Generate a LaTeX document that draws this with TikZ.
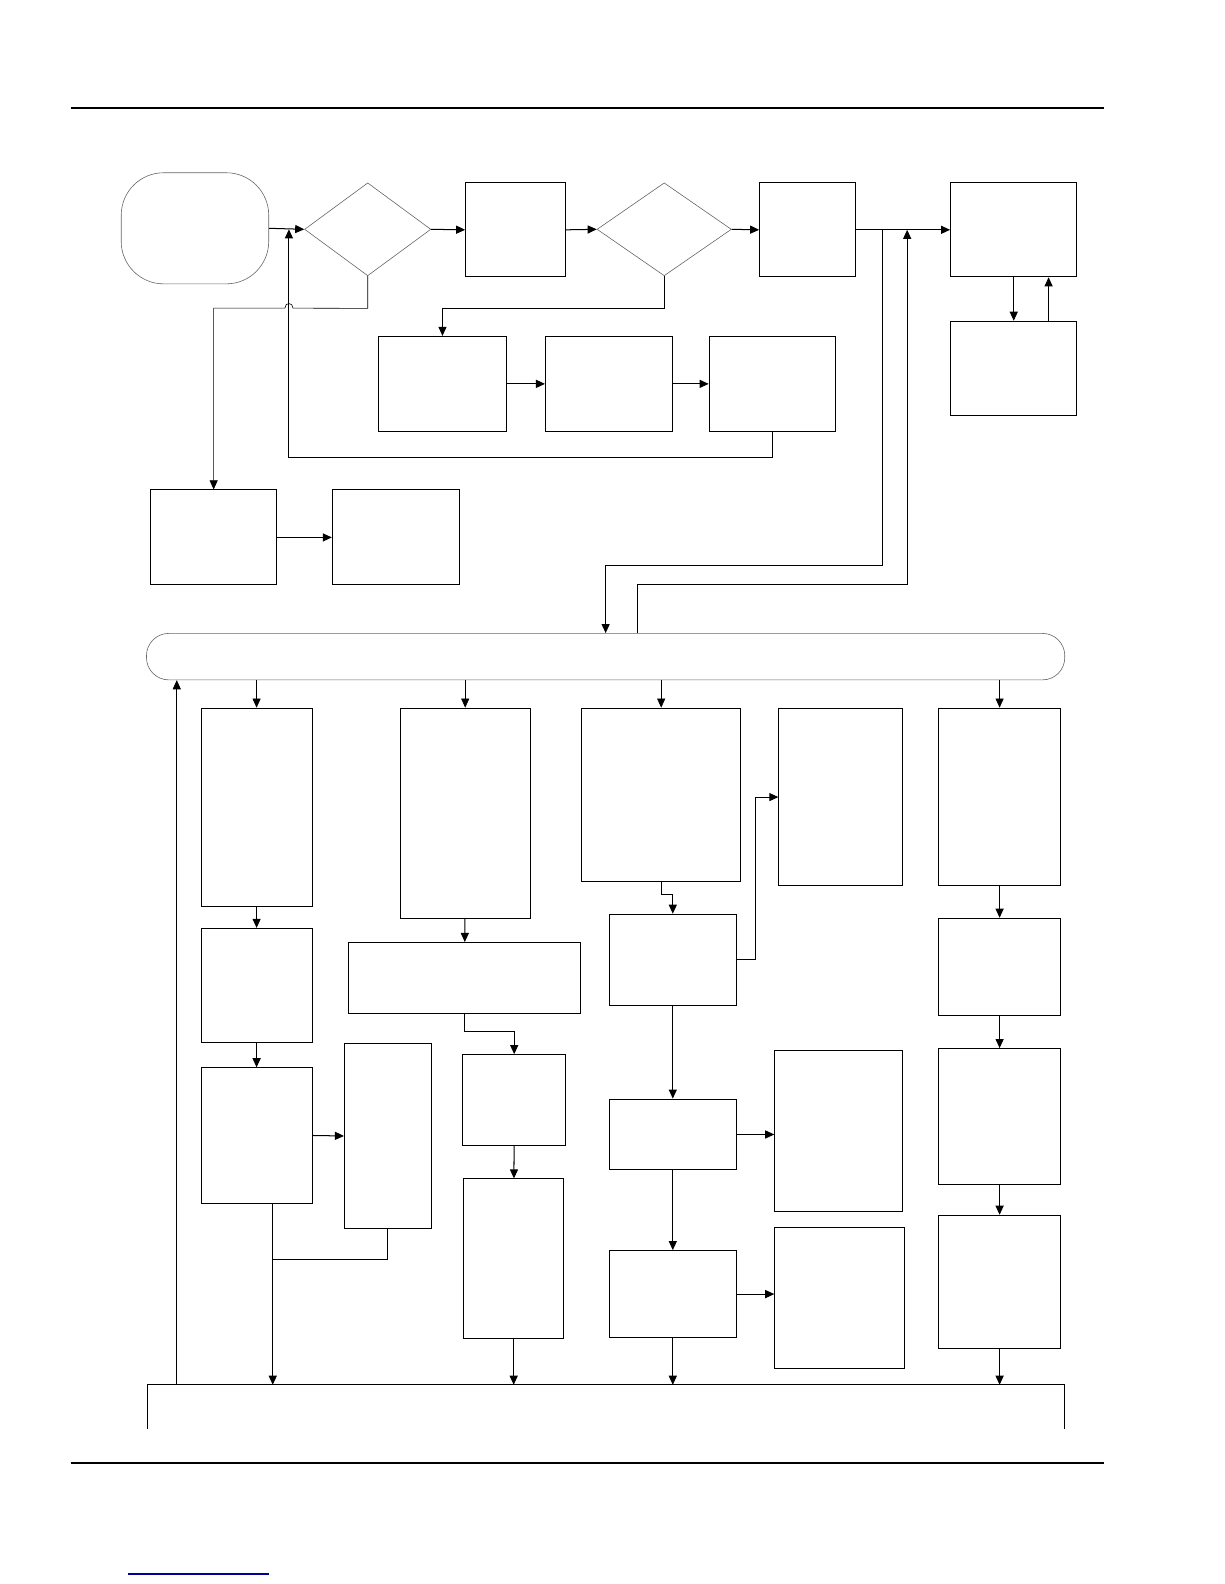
\documentclass[tikz,border=0pt]{standalone}
\usepackage{tikz}
\usetikzlibrary{arrows.meta, shapes.geometric}

\tikzset{
    proc/.style={draw, rectangle, line width=1pt, inner sep=0pt},
    decision/.style={draw=black!60, diamond, line width=0.6pt, inner sep=0pt, aspect=1},
    term/.style={draw=black!60, rectangle, line width=0.6pt, inner sep=0pt},
    flow/.style={-{Triangle[length=9pt,width=8pt]}, line width=1pt},
    link/.style={line width=1pt},
    faint/.style={line width=0.6pt}
}

\begin{document}
\begin{tikzpicture}[x=1pt, y=-1pt]
    \useasboundingbox (0,0) rectangle (1212,1568);

    % Page rules
    \draw[line width=2pt] (70,107) -- (1093,107);
    \draw[line width=2pt] (70,1448) -- (1093,1448);
    \draw[line width=1.5pt, blue!60!black] (127,1558) -- (266,1558);

    % Draw nodes (top part)
    \node[term, rounded corners=42, minimum width=146, minimum height=110] (1) at (193,226) {};
    \node[decision, minimum width=125, minimum height=92] (2) at (364,227) {};
    \node[proc, minimum width=99, minimum height=93] (3) at (510.5,227.5) {};
    \node[decision, minimum width=133, minimum height=92] (4) at (657.5,227) {};
    \node[proc, minimum width=95, minimum height=93] (5) at (799.5,227.5) {};
    \node[proc, minimum width=125, minimum height=93] (6) at (1003.5,227.5) {};
    \node[proc, minimum width=125, minimum height=93] (7) at (1003.5,364.5) {};
    \node[proc, minimum width=126, minimum height=94] (8) at (438,380) {};
    \node[proc, minimum width=126, minimum height=94] (9) at (603,380) {};
    \node[proc, minimum width=125, minimum height=94] (10) at (764.5,380) {};
    \node[proc, minimum width=125, minimum height=94] (11) at (211.5,532) {};
    \node[proc, minimum width=126, minimum height=94] (12) at (392,532) {};
    \node[term, rounded corners=22, minimum width=909, minimum height=46] (13) at (599.5,650) {};

    % Draw nodes (columns)
    \node[proc, minimum width=110, minimum height=196] (14) at (254,799) {};
    \node[proc, minimum width=110, minimum height=113] (15) at (254,975.5) {};
    \node[proc, minimum width=110, minimum height=134] (16) at (254,1124) {};
    \node[proc, minimum width=86, minimum height=183] (17) at (384,1124.5) {};
    \node[proc, minimum width=129, minimum height=208] (18) at (460.5,805) {};
    \node[proc, minimum width=230, minimum height=70] (19) at (460,968) {};
    \node[proc, minimum width=102, minimum height=90] (20) at (509,1089) {};
    \node[proc, minimum width=99, minimum height=158] (21) at (508.5,1246) {};
    \node[proc, minimum width=157, minimum height=172] (22) at (654.5,787) {};
    \node[proc, minimum width=126, minimum height=90] (23) at (666,950) {};
    \node[proc, minimum width=122, minimum height=176] (24) at (832,789) {};
    \node[proc, minimum width=126, minimum height=70] (25) at (666,1123) {};
    \node[proc, minimum width=126, minimum height=159] (26) at (830,1119.5) {};
    \node[proc, minimum width=126, minimum height=86] (27) at (666,1281) {};
    \node[proc, minimum width=128, minimum height=140] (28) at (831,1285) {};
    \node[proc, minimum width=121, minimum height=176] (29) at (989.5,789) {};
    \node[proc, minimum width=121, minimum height=96] (30) at (989.5,957) {};
    \node[proc, minimum width=121, minimum height=135] (31) at (989.5,1105.5) {};
    \node[proc, minimum width=121, minimum height=132] (32) at (989.5,1269) {};
    \node[minimum width=908, minimum height=43, inner sep=0pt] (33) at (600,1392.5) {};
    \draw[link] (33.south west) -- (33.north west) -- (33.north east) -- (33.south east);

    % Junctions
    \coordinate (j1) at (286,227);
    \coordinate (j2) at (874,227.5);
    \coordinate (j3) at (898,227.5);
    \coordinate (j4) at (270,1247);
    \coordinate (u1) at (631,627);

    % Draw connections (top part)
    \draw[flow] (1.east) -- (2.west);
    \draw[flow] (2.east) -- (3.west);
    \draw[flow] (3.east) -- (4.west);
    \draw[flow] (4.east) -- (5.west);
    \draw[flow] (5.east) -- (6.west);
    \draw[flow] (6.south) -- (7.north);
    \draw[flow] (7.north -| 1038,0) -- (6.south -| 1038,0);
    \draw[flow] (4.south) -- ++(0,32) -| (8.north);
    \draw[flow] (8.east) -- (9.west);
    \draw[flow] (9.east) -- (10.west);
    \draw[flow] (10.south) -- ++(0,25) -| (j1);
    \draw[flow, faint] (2.south) -- ++(0,32) -- (290,305)
        .. controls (290,299) and (282,299) .. (282,305) -| (11.north);
    \draw[flow] (11.east) -- (12.west);
    \draw[flow] (j2) -- ++(0,332.5) -| (13.north);
    \draw[flow] (u1) -- ++(0,-48) -| (j3);

    % Draw connections (bus to columns)
    \draw[flow, faint] (13.south -| 14.north) -- (14.north);
    \draw[flow, faint] (13.south -| 18.north) -- (18.north);
    \draw[flow, faint] (13.south -| 22.north) -- (22.north);
    \draw[flow, faint] (13.south -| 29.north) -- (29.north);
    \draw[flow, faint] (33.north -| 175,0) -- (13.south -| 175,0);

    % Column 1
    \draw[flow] (14) -- (15);
    \draw[flow] (15) -- (16);
    \draw[flow] (16.east) -- (17.west);
    \draw[flow] (16.south -| j4) -- (33.north -| j4);
    \draw[link] (17.south) |- (j4);

    % Column 2
    \draw[flow] (18) -- (19);
    \draw[flow] (19.south) -- ++(0,18) -| (20.north);
    \draw[flow] (20) -- (21);
    \draw[flow] (21.south) -- (33.north -| 21.south);

    % Column 3
    \draw[flow] (22.south) -- ++(0,12) -| (23.north);
    \draw[flow] (23.east) -- ++(18,0) |- (24.west);
    \draw[flow] (23) -- (25);
    \draw[flow] (25.east) -- (26.west |- 25.east);
    \draw[flow] (25) -- (27);
    \draw[flow] (27.east) -- (28.west |- 27.east);
    \draw[flow] (27.south) -- (33.north -| 27.south);

    % Column 4
    \draw[flow] (29) -- (30);
    \draw[flow] (30) -- (31);
    \draw[flow] (31) -- (32);
    \draw[flow] (32.south) -- (33.north -| 32.south);
\end{tikzpicture}
\end{document}
